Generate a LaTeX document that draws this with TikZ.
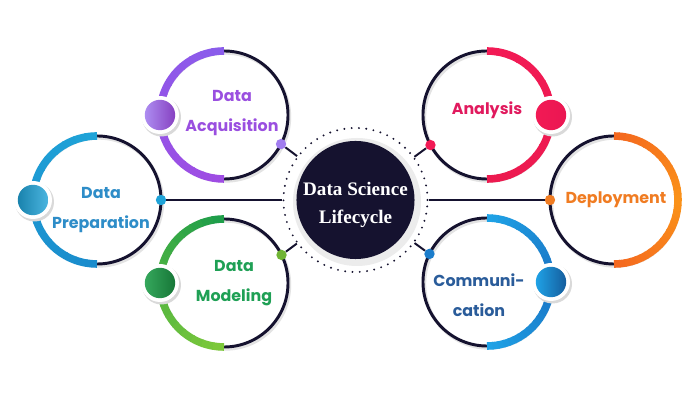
\documentclass[tikz,border=0pt]{standalone}
\usepackage{fontspec}
\setmainfont{Poppins}
\newfontfamily\serfont{Liberation Serif}
\usetikzlibrary{positioning,backgrounds}

\definecolor{ink}{HTML}{15122F}
% ring colours
\definecolor{acqtop}{HTML}{8A5CEB}
\definecolor{acqbot}{HTML}{9E4CE3}
\definecolor{acqtxt}{HTML}{9A4FE0}
\definecolor{preptop}{HTML}{1FA3D8}
\definecolor{prepbot}{HTML}{1A8CCC}
\definecolor{preptxt}{HTML}{2E8DC8}
\definecolor{modtop}{HTML}{1F9E4A}
\definecolor{modbot}{HTML}{7CC83A}
\definecolor{modtxt}{HTML}{1FA055}
\definecolor{anatop}{HTML}{F21A55}
\definecolor{anabot}{HTML}{EC1A4F}
\definecolor{anatxt}{HTML}{E11A5E}
\definecolor{depend}{HTML}{F4681F}
\definecolor{depmid}{HTML}{FA9119}
\definecolor{deptxt}{HTML}{F07C22}
\definecolor{comend}{HTML}{1FA2E6}
\definecolor{commid}{HTML}{1A74C4}
\definecolor{comtxt}{HTML}{2A5C9A}

\tikzset{
  ring/.style={circle, draw=ink, line width=2.1pt, minimum size=3.2cm, inner sep=0pt, outer sep=0pt},
  knob/.style={circle, minimum size=0.26cm, inner sep=0pt},
  bulb/.style={circle, minimum size=0.76cm, inner sep=0pt},
  tag/.style={font=\fontsize{11.3}{21}\selectfont\bfseries, align=center},
  link/.style={draw=ink, line width=1.4pt},
}

% coloured half of a ring: node, start angle, span, colour from, colour to
\newcommand{\gradarc}[5]{%
  \foreach \i in {0,...,17}{%
    \pgfmathtruncatemacro\pc{100-100*\i/17}%
    \pgfmathsetmacro\sa{#2+#3*\i/18}%
    \pgfmathsetmacro\ea{#2+#3*(\i+1)/18+(\i<17)}%
    \draw[line width=5.4pt, #4!\pc!#5] ([shift={(\sa:64)}]#1.center) arc[start angle=\sa, end angle=\ea, radius=64];
  }}

\begin{document}
\begin{tikzpicture}[x=0.025cm, y=0.025cm]
\useasboundingbox (0,0) rectangle (700,400);
% centre
\node[circle, fill=ink, minimum size=2.95cm] (core) at (355.5,200) {};
\node[circle, minimum size=3.6cm, draw=ink, line width=1.5pt, dash pattern=on 0pt off 5.2pt, line cap=round] (orbit) at (core) {};
\node[font=\serfont\fontsize{13.6}{20}\selectfont\bfseries, text=white, align=center] (title) at (355.5,195) {Data Science\\Lifecycle};

% rings
\node[ring] (acq) at (224,285) {};
\node[ring] (prep) at (97,200) {};
\node[ring] (model) at (224,117) {};
\node[ring] (analysis) at (487,285) {};
\node[ring] (deploy) at (614,200) {};
\node[ring] (comm) at (487,118) {};

% coloured halves
\gradarc{acq}{90}{180}{acqtop}{acqbot}
\gradarc{prep}{90}{180}{preptop}{prepbot}
\gradarc{model}{90}{180}{modtop}{modbot}
\gradarc{analysis}{-90}{180}{anabot}{anatop}
\gradarc{deploy}{-90}{90}{depend}{depmid}
\gradarc{deploy}{0}{90}{depmid}{depend}
\gradarc{comm}{-90}{90}{comend}{commid}
\gradarc{comm}{0}{90}{commid}{comend}

% links to the centre
\node[knob, fill=acqtop!80!white] (adot) at (acq.-27) {};
\node[knob, fill=preptop] (pdot) at (prep.east) {};
\node[knob, fill=modbot!90!black] (mdot) at (model.26) {};
\node[knob, fill=anatop] (ndot) at (analysis.208) {};
\node[knob, fill=deptxt] (ddot) at (deploy.west) {};
\node[knob, fill=commid!80!comend] (cdot) at (comm.154) {};
\draw[link] (adot) -- (orbit);
\draw[link] (pdot) -- (orbit);
\draw[link] (mdot) -- (orbit);
\draw[link] (ndot) -- (orbit);
\draw[link] (ddot) -- (orbit);
\draw[link] (cdot) -- (orbit);

% bulbs
\foreach \n in {acq.west, prep.west, model.west, analysis.east, comm.east}{
  \fill[gray!30] ([shift={(1.5,-2)}]\n) circle[radius=19.5];
  \fill[white] (\n) circle[radius=19];
}
\node[bulb, left color=acqtop!70!white, right color=acqbot!85!black] (abulb) at (acq.west) {};
\node[bulb, left color=preptop!80!black, right color=preptop!80!white] (pbulb) at (prep.west) {};
\node[bulb, left color=modtop!90!white, right color=modtop!75!black] (mbulb) at (model.west) {};
\node[bulb, left color=anatop, right color=anatop!85!purple] (nbulb) at (analysis.east) {};
\node[bulb, left color=comend, right color=commid!80!black] (cbulb) at (comm.east) {};

% labels
\node[tag, text=acqtxt] (acqtext) at (232,287) {Data\\Acquisition};
\node[tag, text=preptxt] (preptext) at (101,190) {Data\\Preparation};
\node[tag, text=modtxt] (modtext) at (234,117) {Data\\Modeling};
\node[tag, text=anatxt] (anatext) at (487,290) {Analysis};
\node[tag, text=deptxt] (deptext) at (616,200) {Deployment};
\node[tag, text=comtxt] (comtext) at (479,105) {Communi-\\cation};

% shadows
\begin{scope}[on background layer]
\fill[white] (0,0) rectangle (700,400);
\foreach \n in {acq, prep, model, analysis, deploy, comm}
  \draw[gray!22, line width=2.4pt] ([shift={(1.5,-2)}]\n.center) circle[radius=64];
\fill[gray!15] ([shift={(1.5,-2)}]core.center) circle[radius=64];
\end{scope}
\end{tikzpicture}
\end{document}
